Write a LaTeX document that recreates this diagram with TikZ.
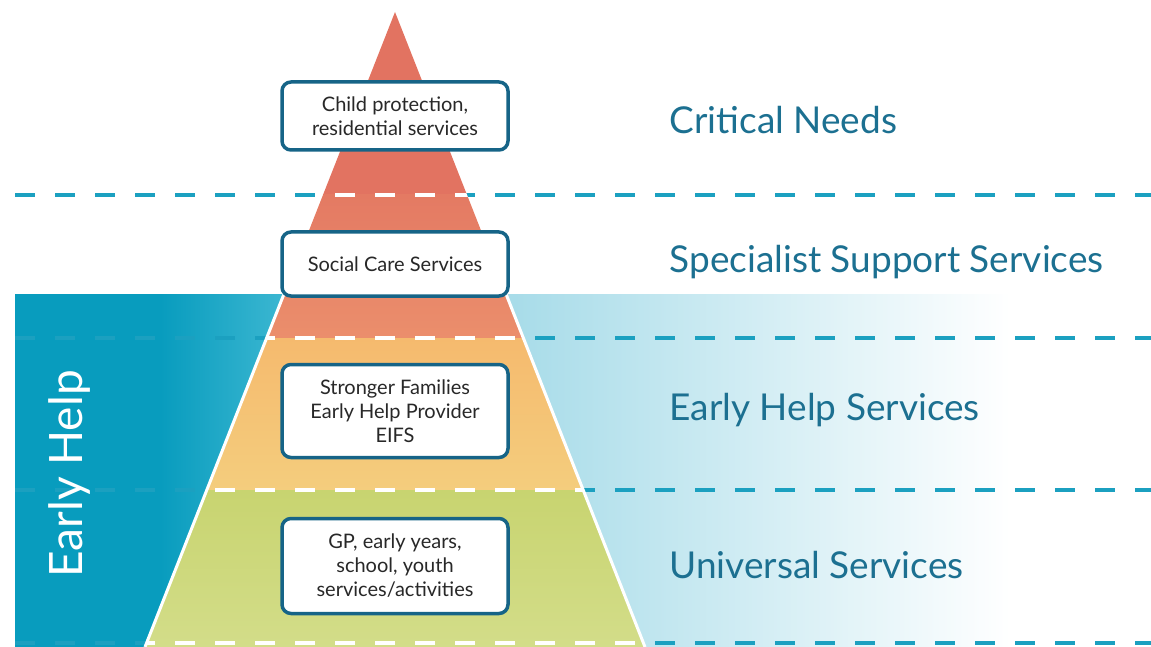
\documentclass[tikz,border=0pt]{standalone}
\usepackage{fontspec}
\setmainfont{Lato}
\usetikzlibrary{calc}

\definecolor{dashteal}{RGB}{27,160,192}
\definecolor{panelteal}{RGB}{8,156,190}
\definecolor{panellight}{RGB}{62,184,210}
\definecolor{panelpale}{RGB}{168,220,233}
\definecolor{labelblue}{RGB}{28,112,145}
\definecolor{boxblue}{RGB}{22,100,135}
\definecolor{boxtext}{RGB}{40,40,40}
\definecolor{bandred}{RGB}{226,115,97}
\definecolor{bandsalmonA}{RGB}{228,122,99}
\definecolor{bandsalmonB}{RGB}{235,142,108}
\definecolor{bandorangeA}{RGB}{245,186,110}
\definecolor{bandorangeB}{RGB}{244,205,125}
\definecolor{bandgreenA}{RGB}{200,212,112}
\definecolor{bandgreenB}{RGB}{211,221,137}

\begin{document}
\begin{tikzpicture}[x=1pt, y=-1pt,
    servicebox/.style={draw=boxblue, line width=3.5pt, fill=white, rounded corners=9pt,
        minimum width=226pt, align=center, text=boxtext, font=\fontsize{20}{24}\selectfont},
    levellabel/.style={anchor=west, text=labelblue, font=\fontsize{37}{42}\selectfont},
    leveldash/.style={line width=4pt, dash pattern=on 20pt off 20pt}]

    \useasboundingbox (0,0) rectangle (1151,647);

    % Pyramid corners
    \coordinate (apex) at (395,12);
    \coordinate (baseL) at (145,647);
    \coordinate (baseR) at (645,647);

    % Early help panel, left and right
    \fill[panelteal] (15,294) rectangle (160,647);
    \shade[left color=panelteal, right color=panellight] (160,294) rectangle (290,647);
    \fill[panellight] (290,294) rectangle (395,647);
    \fill[panelpale] (395,294) rectangle (515,647);
    \shade[left color=panelpale, right color=white] (515,294) rectangle (1010,647);

    % Level lines
    \foreach \yy in {195,338,490,643}
        \draw[leveldash, dashteal] (15,\yy) -- (1151,\yy);

    % Pyramid bands
    \begin{scope}
        \clip (apex) -- (baseL) -- (baseR) -- cycle;
        \fill[bandred] (0,0) rectangle (1151,195);
        \shade[top color=bandsalmonA, bottom color=bandsalmonB] (0,195) rectangle (1151,338);
        \shade[top color=bandorangeA, bottom color=bandorangeB] (0,338) rectangle (1151,490);
        \shade[top color=bandgreenA, bottom color=bandgreenB] (0,490) rectangle (1151,647);
        \foreach \yy in {195,338,490,643}
            \draw[leveldash, white] (15,\yy) -- (1151,\yy);
    \end{scope}

    % White edges over the panel
    \begin{scope}
        \clip (0,294) rectangle (1151,647);
        \draw[white, line width=3pt] (baseL) -- (apex) -- (baseR);
    \end{scope}

    % Service boxes
    \node[servicebox, minimum height=68pt] (cpbox) at (395,116) {Child protection,\\residential services};
    \node[servicebox, minimum height=64pt] (scbox) at (395,264) {Social Care Services};
    \node[servicebox, minimum height=93pt] (ehbox) at (395,411) {Stronger Families\\Early Help Provider\\EIFS};
    \node[servicebox, minimum height=95pt] (unbox) at (395,566) {GP, early years,\\school, youth\\services/activities};

    % Level labels
    \node[levellabel] (critical) at (666,120) {Critical Needs};
    \node[levellabel] (specialist) at (666,262) {Specialist Support Services};
    \node[levellabel] (earlyhelp) at (666,410) {Early Help Services};
    \node[levellabel] (universal) at (666,565) {Universal Services};

    % Panel title
    \node[rotate=90, text=white, font=\fontsize{46}{52}\selectfont] (ehtitle) at (70,474) {Early Help};

\end{tikzpicture}
\end{document}
